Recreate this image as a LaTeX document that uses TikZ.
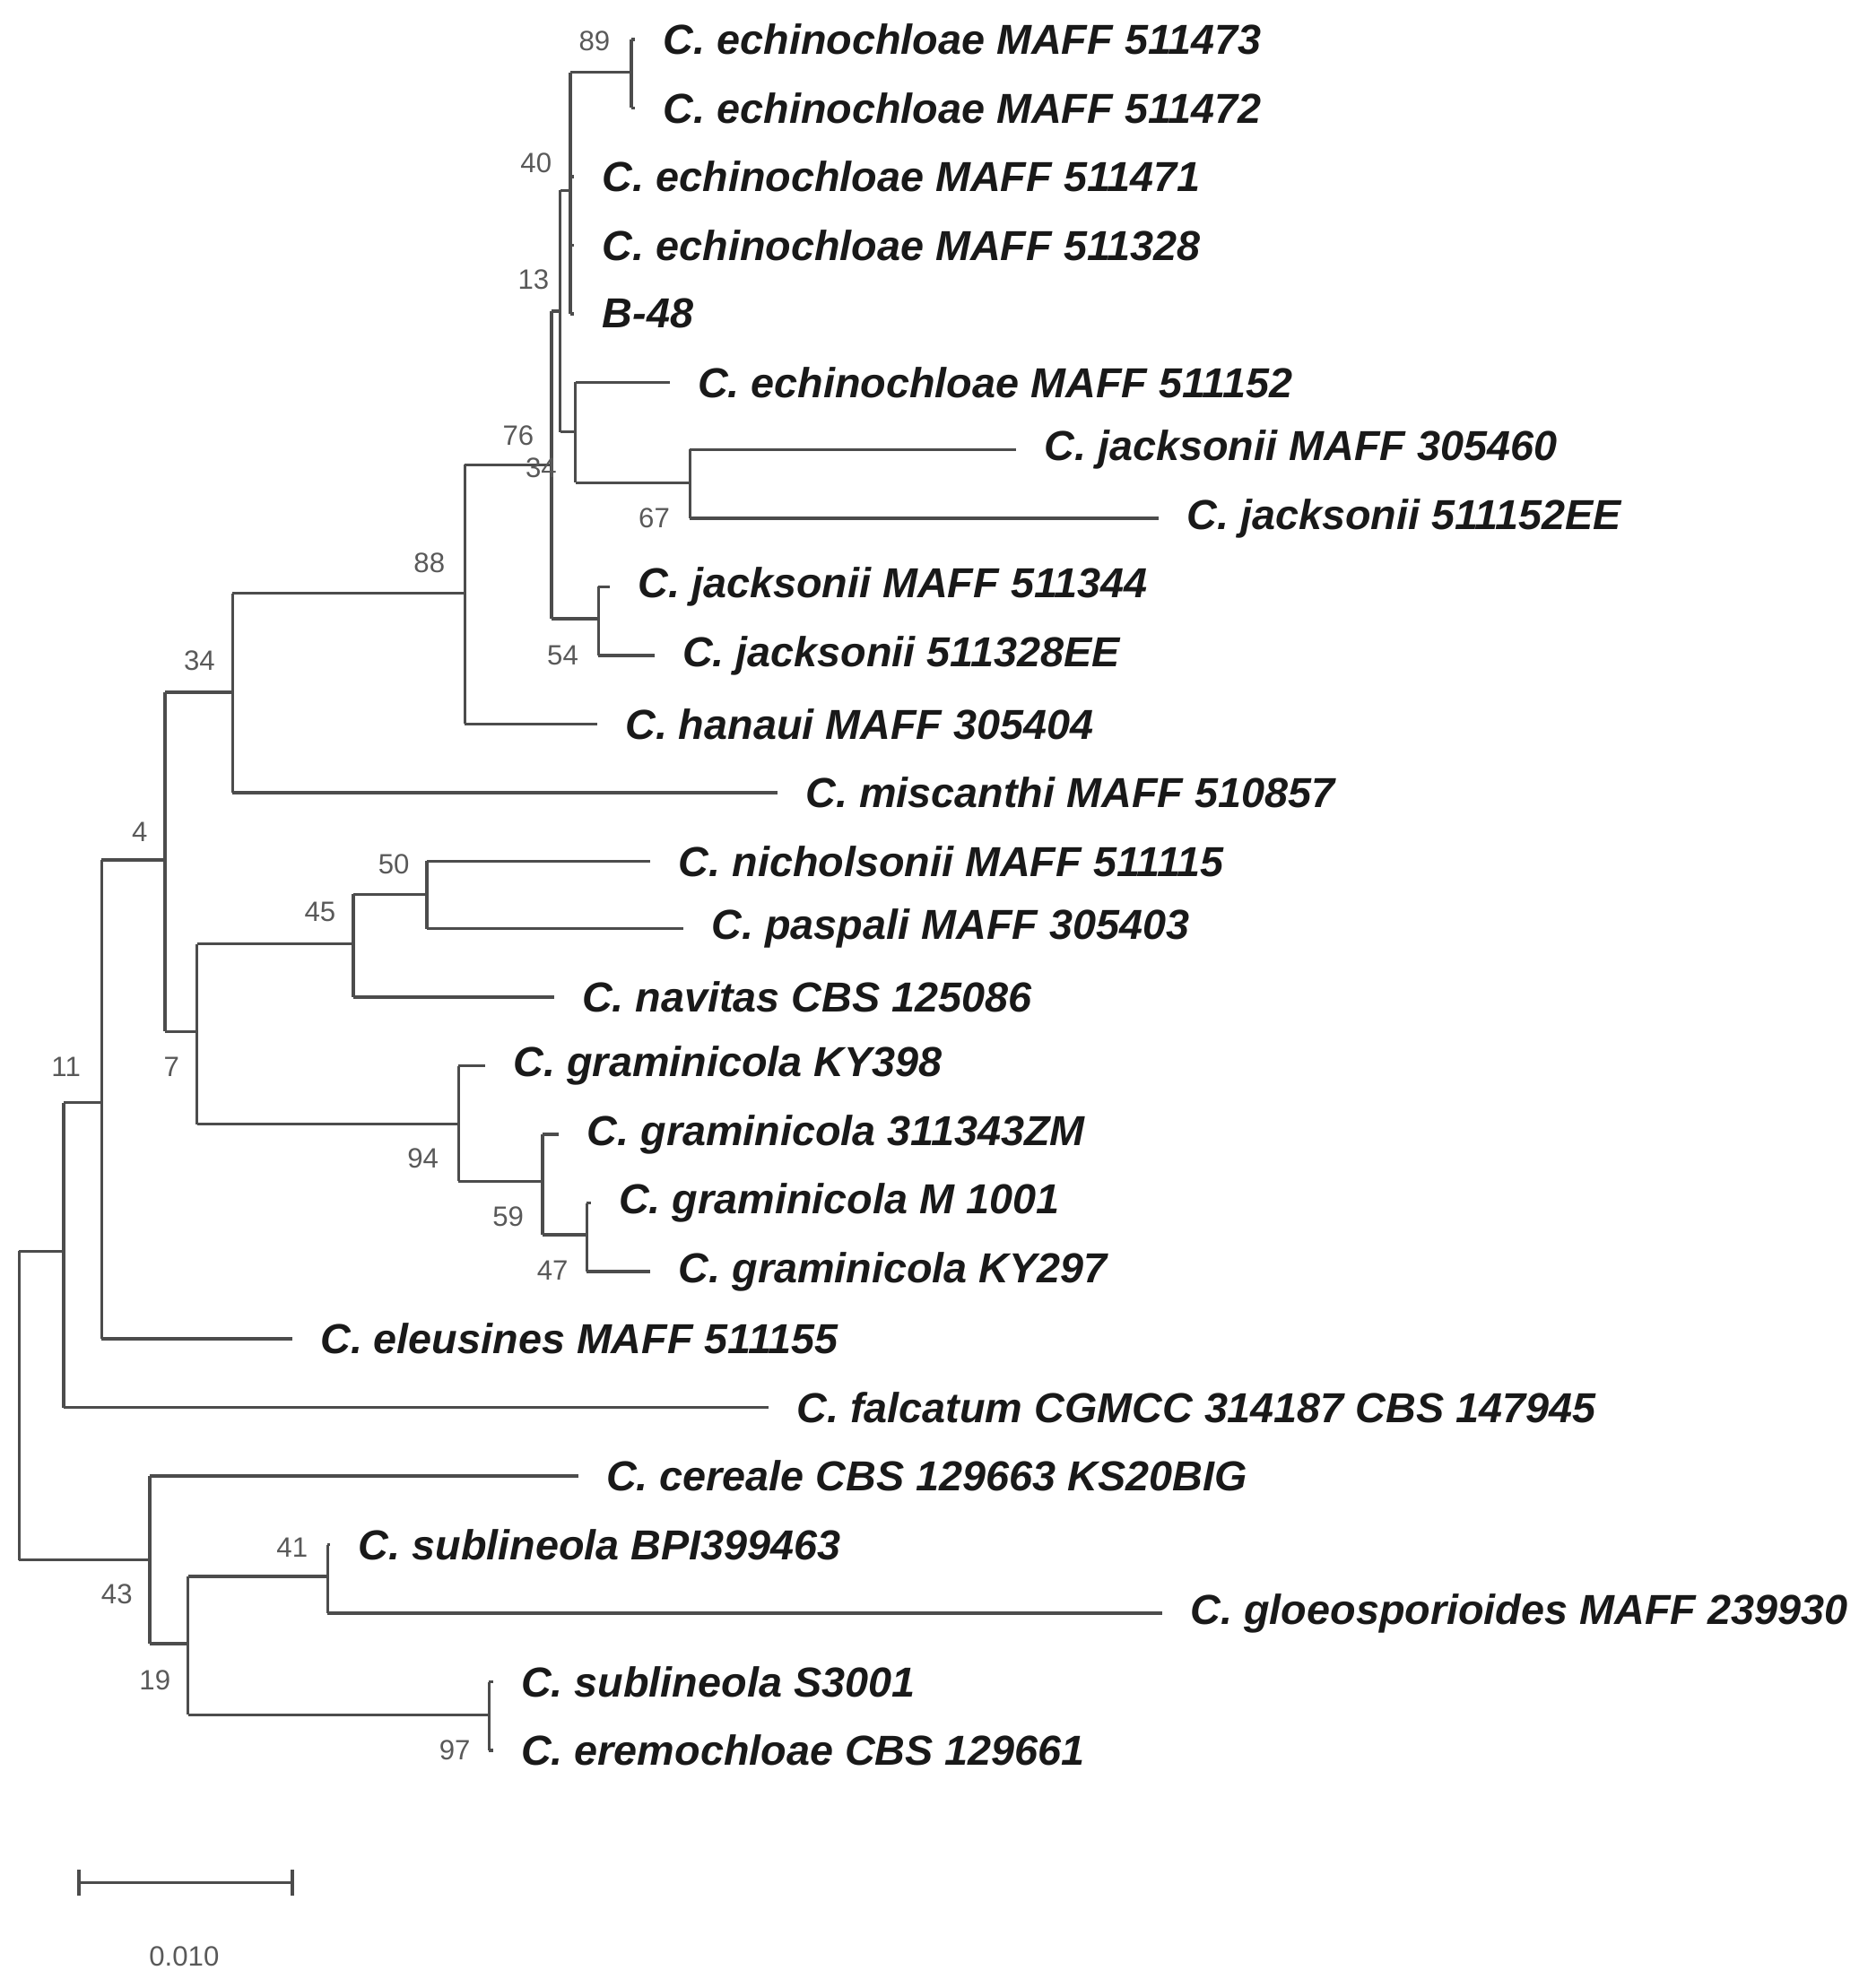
\documentclass[tikz,border=0pt]{standalone}
\usepackage{fontspec}
\setmainfont{Liberation Sans}
\begin{document}
\begin{tikzpicture}[x=1pt,y=-1pt,
  br/.style={draw=black!70,line width=2.4pt},
  leaf/.style={anchor=west,inner sep=0pt,xshift=22pt,text=black!90,font=\fontsize{33}{33}\selectfont\bfseries\itshape},
  bs/.style={inner sep=0pt,text=black!65,font=\fontsize{22}{22}\selectfont}]
\useasboundingbox (0,0) rectangle (1470,1565);
% internal nodes
\coordinate (V) at (497,57);  \coordinate (U) at (449,150);
\coordinate (R) at (453,340); \coordinate (S) at (543,380);
\coordinate (T) at (441,245); \coordinate (Q) at (471,487);
\coordinate (P) at (434,366); \coordinate (E) at (366,467);
\coordinate (D) at (183,545); \coordinate (C) at (130,677);
\coordinate (G) at (278,743); \coordinate (H) at (336,704);
\coordinate (I) at (361,885); \coordinate (J) at (427,930);
\coordinate (K) at (462,972); \coordinate (F) at (155,812);
\coordinate (B) at (80,868);  \coordinate (A) at (50,985);
\coordinate (L) at (118,1228); \coordinate (M) at (148,1294);
\coordinate (N) at (258,1241); \coordinate (O) at (385,1350);
\coordinate (Rt) at (15,1106);
% leaf ends
\foreach \n/\x/\y in {1/500/31,2/500/85,3/452/139,4/452/193,5/452/247,6/527/301,7/800/354,8/912/408,9/480/462,10/515/516,11/470/570,12/612/624,13/512/678,14/538/731,15/436/785,16/382/839,17/440/893,18/465/947,19/512/1001,20/230/1054,21/605/1108,22/455/1162,23/260/1216,24/915/1270,25/388/1324,26/388/1378}
  \coordinate (e\n) at (\x,\y);
\node[leaf] (l1) at (e1) {C. echinochloae MAFF 511473};
\node[leaf] (l2) at (e2) {C. echinochloae MAFF 511472};
\node[leaf] (l3) at (e3) {C. echinochloae MAFF 511471};
\node[leaf] (l4) at (e4) {C. echinochloae MAFF 511328};
\node[leaf] (l5) at (e5) {B-48};
\node[leaf] (l6) at (e6) {C. echinochloae MAFF 511152};
\node[leaf] (l7) at (e7) {C. jacksonii MAFF 305460};
\node[leaf] (l8) at (e8) {C. jacksonii 511152EE};
\node[leaf] (l9) at (e9) {C. jacksonii MAFF 511344};
\node[leaf] (l10) at (e10) {C. jacksonii 511328EE};
\node[leaf] (l11) at (e11) {C. hanaui MAFF 305404};
\node[leaf] (l12) at (e12) {C. miscanthi MAFF 510857};
\node[leaf] (l13) at (e13) {C. nicholsonii MAFF 511115};
\node[leaf] (l14) at (e14) {C. paspali MAFF 305403};
\node[leaf] (l15) at (e15) {C. navitas CBS 125086};
\node[leaf] (l16) at (e16) {C. graminicola KY398};
\node[leaf] (l17) at (e17) {C. graminicola 311343ZM};
\node[leaf] (l18) at (e18) {C. graminicola M 1001};
\node[leaf] (l19) at (e19) {C. graminicola KY297};
\node[leaf] (l20) at (e20) {C. eleusines MAFF 511155};
\node[leaf] (l21) at (e21) {C. falcatum CGMCC 314187 CBS 147945};
\node[leaf] (l22) at (e22) {C. cereale CBS 129663 KS20BIG};
\node[leaf] (l23) at (e23) {C. sublineola BPI399463};
\node[leaf] (l24) at (e24) {C. gloeosporioides MAFF 239930};
\node[leaf] (l25) at (e25) {C. sublineola S3001};
\node[leaf] (l26) at (e26) {C. eremochloae CBS 129661};
% leaf branches
\foreach \p/\n in {V/1,V/2,U/3,U/4,U/5,R/6,S/7,S/8,Q/9,Q/10,E/11,D/12,H/13,H/14,G/15,I/16,J/17,K/18,K/19,B/20,A/21,L/22,N/23,N/24,O/25,O/26}
  \draw[br] (\p |- e\n) -- (e\n);
% internal branches
\foreach \p/\c in {U/V,T/U,T/R,R/S,P/T,P/Q,E/P,D/E,C/D,B/C,F/G,G/H,F/I,I/J,J/K,C/F,A/B,Rt/A,Rt/L,L/M,M/N,M/O}
  \draw[br] (\p |- \c) -- (\c);
% verticals
\draw[br] (V |- e1) -- (V |- e2);
\draw[br] (U |- V) -- (U |- e5);
\draw[br] (T |- U) -- (T |- R);
\draw[br] (R |- e6) -- (R |- S);
\draw[br] (S |- e7) -- (S |- e8);
\draw[br] (Q |- e9) -- (Q |- e10);
\draw[br] (P |- T) -- (P |- Q);
\draw[br] (E |- P) -- (E |- e11);
\draw[br] (D |- E) -- (D |- e12);
\draw[br] (C |- D) -- (C |- F);
\draw[br] (F |- G) -- (F |- I);
\draw[br] (G |- H) -- (G |- e15);
\draw[br] (H |- e13) -- (H |- e14);
\draw[br] (I |- e16) -- (I |- J);
\draw[br] (J |- e17) -- (J |- K);
\draw[br] (K |- e18) -- (K |- e19);
\draw[br] (B |- C) -- (B |- e20);
\draw[br] (A |- B) -- (A |- e21);
\draw[br] (Rt |- A) -- (Rt |- L);
\draw[br] (L |- e22) -- (L |- M);
\draw[br] (M |- N) -- (M |- O);
\draw[br] (N |- e23) -- (N |- e24);
\draw[br] (O |- e25) -- (O |- e26);
% bootstrap values
\foreach \t/\x/\y in {89/468/32,40/422/128,13/420/220,76/408/343,34/426/368,67/515/408,54/443/516,88/338/443,34/157/520,4/110/655,50/310/680,45/252/718,7/135/840,11/52/840,94/333/912,59/400/958,47/435/1000,43/92/1255,41/230/1218,19/122/1323,97/358/1378}
  \node[bs] at (\x,\y) {\t};
% scale bar
\coordinate (s1) at (62,1482); \coordinate (s2) at (230,1482);
\draw[br] (s1) -- (s2);
\draw[br] ([yshift=-10pt]s1) -- ([yshift=10pt]s1);
\draw[br] ([yshift=-10pt]s2) -- ([yshift=10pt]s2);
\node[bs] (sc) at (145,1540) {0.010};
\end{tikzpicture}
\end{document}
